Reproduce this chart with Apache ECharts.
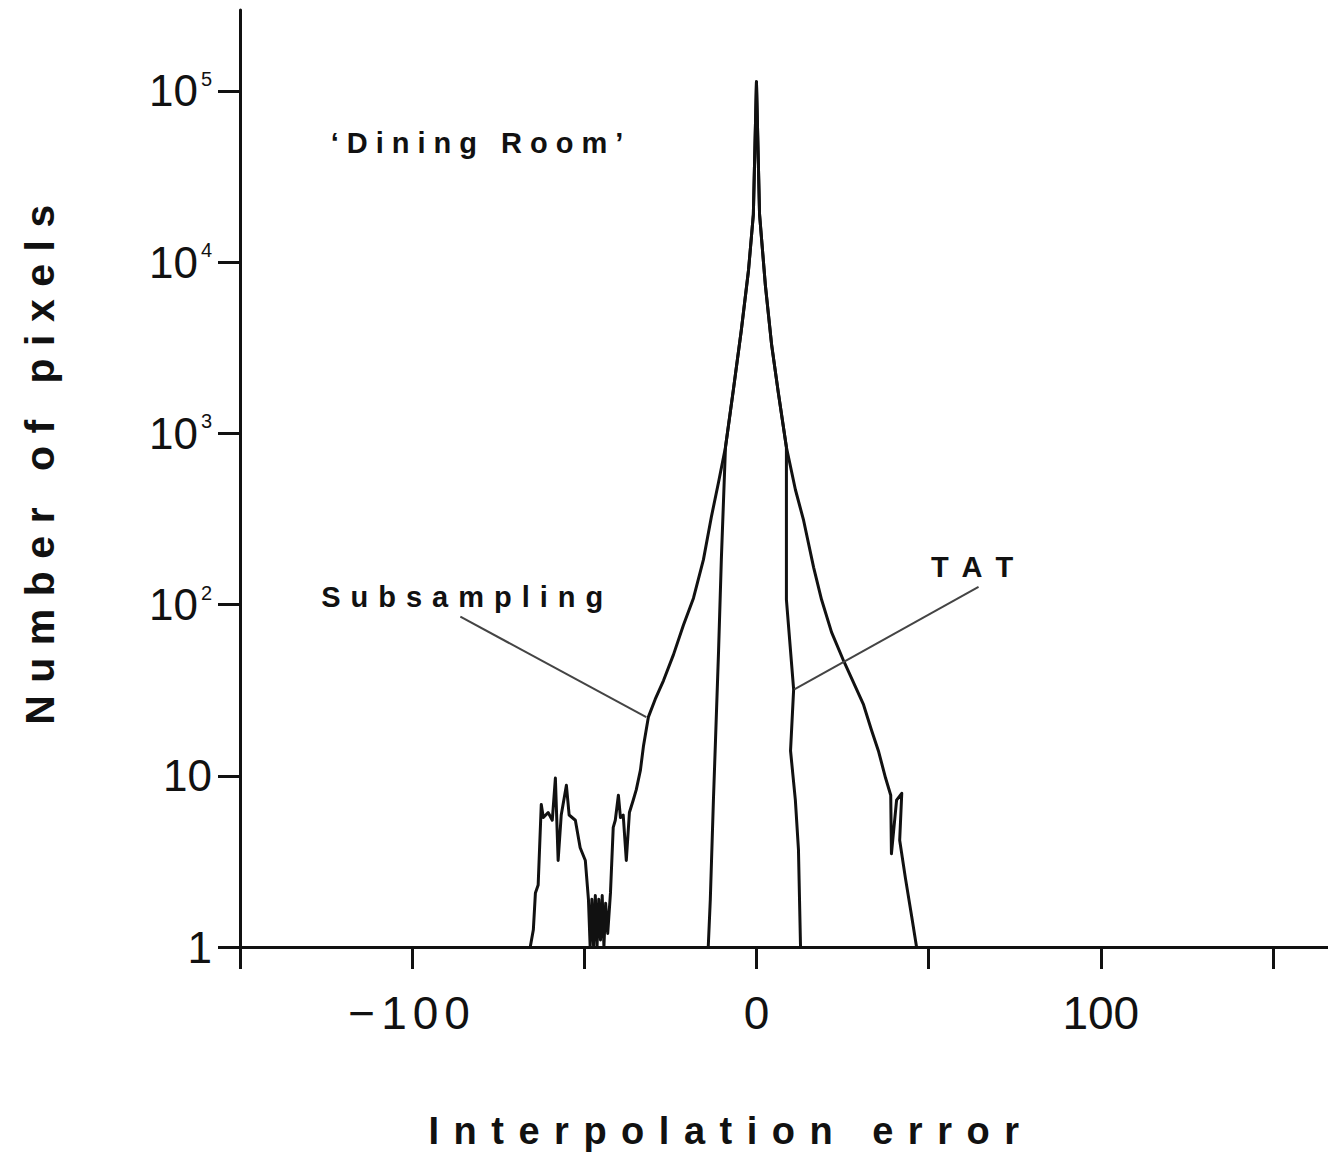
<!DOCTYPE html>
<html>
<head>
<meta charset="utf-8">
<script src="https://cdn.jsdelivr.net/npm/echarts@6/dist/echarts.min.js"></script>
<style>
  html, body { margin: 0; padding: 0; background: #fff; }
  #chart { width: 1328px; height: 1164px; }
</style>
</head>
<body>
<div id="chart"></div>
<script>
// interpolation error histogram, "Dining Room" image
const subErr = [-65.7, -64.8, -64.2, -63.4, -62.5, -61.9, -60.5, -59.3, -58.4, -57.6, -56.7, -55.2, -54.4, -52.6, -51.2, -49.7, -48.8,
  -48.3, -47.8, -47.3, -46.8, -46.3, -45.8, -45.3, -44.8, -44.3, -43.8, -43.2,
  -42.4, -41.6, -41.0, -40.1, -39.5, -38.7, -37.8, -36.9, -35.8, -34.9, -33.7, -32.8, -31.4, -29.4, -27, -24.1, -21.2, -18.3, -15.4,
  -13.1, -11, -9, -6.7, -4.4, -2.3, -0.9, 0, 0.9, 2.6, 4.4, 6.4, 8.7, 11.3, 13.7, 16.6, 18.9, 21.8, 25.3, 28.2, 31.1, 33.4, 35.5,
  37.5, 39, 39.2, 40.7, 42.2, 41.6, 43.3, 45.1, 46.5];
const subCount = [1, 1.26, 2.07, 2.3, 6.8, 5.7, 6.1, 5.5, 9.7, 3.2, 5.9, 8.8, 5.9, 5.5, 3.8, 3.2, 1.9,
  1, 1.9, 1, 2, 1, 1.9, 1.1, 2, 1, 1.8, 1.2,
  2.07, 5.0, 5.5, 7.7, 5.7, 5.9, 3.2, 6.1, 7.2, 8.3, 10.8, 15, 22, 28, 36, 51, 76, 109, 183,
  325, 520, 830, 1800, 4000, 9000, 19000, 113000, 19000, 7300, 3300, 1700, 830, 470, 310, 165, 107, 69, 47, 35, 26, 18.5, 13.8,
  9.7, 7.7, 3.5, 7.2, 7.9, 4.2, 2.5, 1.5, 1];

const tatErr = [-14, -13.4, -12.5, -11.9, -11, -10.2, -9, -6.7, -4.4, -2.3, -0.9, 0, 0.9, 2.6, 4.4, 6.4, 8.7, 8.7, 8.7, 10.8, 9.9, 11.3, 12.2, 12.8];
const tatCount = [1, 1.9, 7.2, 16, 54, 183, 830, 1800, 4000, 9000, 19000, 113000, 19000, 7300, 3300, 1700, 830, 310, 107, 32, 14, 7.2, 3.7, 1];

const xTicks = [-150, -100, -50, 0, 50, 100, 150];
const xLabels = [-100, 0, 100];
const yTicks = [1, 10, 100, 1000, 10000, 100000];

// annotation texts and their pointers, in data units
const notes = [
  { text: '‘Dining Room’', at: [-80, 49700] },
  { text: 'Subsampling', at: [-84, 111] },
  { text: 'TAT', at: [64.8, 166] }
];
const subPointer = [[-86, 85], [-32, 22]];
const tatPointer = [[64.5, 127], [11, 32]];

const ink = '#111';
const font = '"Liberation Sans", Arial, Helvetica, sans-serif';

function pairs(xs, ys) {
  return xs.map((x, i) => [x, ys[i]]);
}

const chart = echarts.init(document.getElementById('chart'), null, { renderer: 'svg' });

const option = {
  backgroundColor: '#fff',
  animation: false,
  grid: { left: 240, right: 0, top: 10, bottom: 217, containLabel: false, outerBoundsMode: 'none' },
  xAxis: {
    type: 'value',
    min: -150,
    max: 166,
    interval: 50,
    name: 'Interpolation error',
    nameLocation: 'middle',
    nameGap: 165,
    nameTextStyle: { fontFamily: font, fontSize: 38, fontWeight: 'bold', color: ink, padding: [0, 106, 0, 0] },
    axisLine: { onZero: false, lineStyle: { color: ink, width: 3 } },
    axisTick: { length: 22, customValues: xTicks, lineStyle: { color: ink, width: 3 } },
    axisLabel: {
      customValues: xLabels,
      margin: 43,
      fontFamily: font,
      fontSize: 46,
      color: ink,
      formatter: v => (v < 0 ? '−' + Math.abs(v) : String(v))
    },
    splitLine: { show: false }
  },
  yAxis: {
    type: 'log',
    logBase: 10,
    min: 1,
    max: 297000,
    name: 'Number of pixels',
    nameLocation: 'middle',
    nameRotate: 90,
    nameGap: 180,
    nameTextStyle: { fontFamily: font, fontSize: 41, fontWeight: 'bold', color: ink, padding: [0, 0, 0, 40] },
    axisLine: { onZero: false, lineStyle: { color: ink, width: 3 } },
    axisTick: { length: 22, customValues: yTicks, lineStyle: { color: ink, width: 3 } },
    axisLabel: {
      customValues: yTicks,
      margin: 28,
      fontFamily: font,
      fontSize: 44,
      color: ink,
      formatter: function (v) {
        const p = Math.round(Math.log10(v));
        if (Math.abs(Math.log10(v) - p) > 1e-6) return '';
        if (p === 0) return '1';
        if (p === 1) return '10';
        return '10{s|' + p + '}';
      },
      rich: {
        s: { fontFamily: font, fontSize: 20, color: ink, padding: [0, 0, 24, 3] }
      }
    },
    splitLine: { show: false }
  },
  series: [
    {
      name: 'Subsampling',
      type: 'line',
      data: pairs(subErr, subCount),
      symbol: 'none',
      lineStyle: { color: ink, width: 3, join: 'round' },
      markLine: {
        silent: true,
        symbol: 'none',
        label: { show: false },
        lineStyle: { color: '#444', width: 2, type: 'solid' },
        data: [
          [{ coord: subPointer[0] }, { coord: subPointer[1] }],
          [{ coord: tatPointer[0] }, { coord: tatPointer[1] }]
        ]
      },
      markPoint: {
        silent: true,
        symbol: 'circle',
        symbolSize: 1,
        itemStyle: { color: 'rgba(0,0,0,0)' },
        data: notes.map(n => ({
          coord: n.at,
          label: {
            show: true,
            position: 'inside',
            formatter: n.text,
            fontFamily: font,
            fontSize: 29,
            fontWeight: 'bold',
            color: ink
          }
        }))
      }
    },
    {
      name: 'TAT',
      type: 'line',
      data: pairs(tatErr, tatCount),
      symbol: 'none',
      lineStyle: { color: ink, width: 3, join: 'round' }
    }
  ]
};

chart.setOption(option);

// the printed figure uses wide tracking; zrender has no letter-spacing, so add it on the svg text
const spacing = {
  'Number of pixels': 12.5,
  'Interpolation error': 14.5,
  '‘Dining Room’': 8,
  'Subsampling': 10,
  'TAT': 15,
  '−100': 6
};
function spreadLetters() {
  document.querySelectorAll('#chart text').forEach(t => {
    const s = spacing[t.textContent];
    if (s) t.setAttribute('letter-spacing', s);
  });
}
spreadLetters();
chart.on('finished', spreadLetters);
</script>
</body>
</html>
